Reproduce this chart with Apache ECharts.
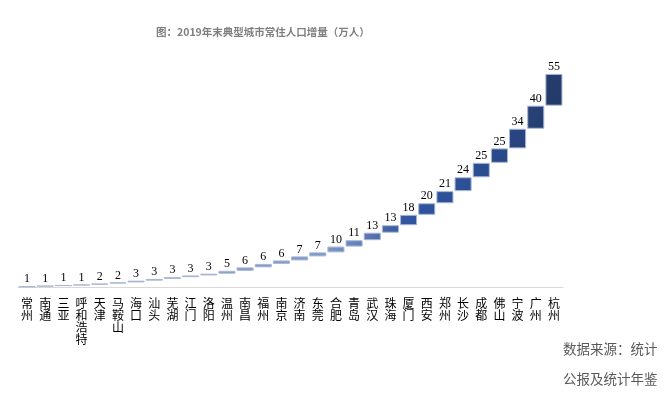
<!DOCTYPE html>
<html>
<head>
<meta charset="utf-8">
<script src="https://cdn.jsdelivr.net/npm/echarts@6/dist/echarts.min.js"></script>
<style>
html,body{margin:0;padding:0;background:#fff;}
#chart{width:669px;height:394px;}
</style>
</head>
<body>
<div id="chart"></div>
<script>
var cities = ['常州','南通','三亚','呼和浩特','天津','马鞍山','海口','汕头','芜湖','江门','洛阳','温州','南昌','福州','南京','济南','东莞','合肥','青岛','武汉','珠海','厦门','西安','郑州','长沙','成都','佛山','宁波','广州','杭州'];
var increments = [1,1,1,1,2,2,3,3,3,3,3,5,6,6,6,7,7,10,11,13,13,18,20,21,24,25,25,34,40,55];
var titleText = '图：2019年末典型城市常住人口增量（万人）';
var sourceLines = ['数据来源：统计', '公报及统计年鉴'];

var bases = [];
var run = 0;
for (var i = 0; i < increments.length; i++) { bases.push(run); run += increments[i]; }

function hex(c) { return [parseInt(c.substr(1,2),16),parseInt(c.substr(3,2),16),parseInt(c.substr(5,2),16)]; }
function mix(a, b, t) {
  var pa = hex(a), pb = hex(b);
  return 'rgb(' + pa.map(function(v,k){return Math.round(v+(pb[k]-v)*t);}).join(',') + ')';
}
var anchors = [[0,'#8ea2c9'],[16,'#7e97c6'],[17,'#6f8cc0'],[18,'#5d7cb8'],[19,'#4a69a8'],[20,'#3659a0'],[21,'#2f53a0'],[25,'#2b4c8e'],[27,'#28427a'],[29,'#213a66']];
function barColor(idx) {
  for (var k = 0; k < anchors.length - 1; k++) {
    if (idx >= anchors[k][0] && idx <= anchors[k+1][0]) {
      return mix(anchors[k][1], anchors[k+1][1], (idx - anchors[k][0]) / (anchors[k+1][0] - anchors[k][0]));
    }
  }
  return anchors[anchors.length-1][1];
}

var chart = echarts.init(document.getElementById('chart'), null, {renderer: 'canvas'});
chart.setOption({
  animation: false,
  title: {
    text: titleText,
    left: 151,
    top: 22,
    textStyle: {fontFamily: 'Noto Sans CJK SC', fontSize: 10.5, fontWeight: 'bold', color: '#7f7f7f'}
  },
  grid: {left: 18, right: 106, top: 56, bottom: 107},
  xAxis: {
    type: 'category',
    data: cities,
    axisLine: {lineStyle: {color: '#d9d9d9', width: 1}},
    axisTick: {show: false},
    axisLabel: {
      interval: 0,
      margin: 10,
      fontFamily: 'Noto Sans CJK SC',
      fontSize: 12,
      lineHeight: 12,
      color: '#000',
      formatter: function (v) { return v.split('').join('\n'); }
    }
  },
  yAxis: {type: 'value', min: 0, max: 400, show: false, splitLine: {show: false}},
  series: [
    {
      type: 'bar', stack: 'w', data: bases, barCategoryGap: '6%',
      itemStyle: {color: 'transparent'}, silent: true
    },
    {
      type: 'bar', stack: 'w', data: increments.map(function (v, i) {
        return {value: v, itemStyle: {color: {type: 'linear', x: 0, y: 0, x2: 1, y2: 1, colorStops: [
          {offset: 0, color: barColor(Math.max(0, i - 1))}, {offset: 1, color: barColor(i)}]}}};
      }),
      itemStyle: {borderColor: '#a8b7d4', borderWidth: 1},
      label: {show: true, position: 'top', distance: 1, fontFamily: 'Liberation Serif', fontSize: 12, color: '#000'}
    }
  ],
  graphic: [
    {type: 'text', left: 563, top: 342, style: {text: sourceLines[0], font: '13.5px "Noto Sans CJK SC"', fill: '#595959'}},
    {type: 'text', left: 563, top: 372, style: {text: sourceLines[1], font: '13.5px "Noto Sans CJK SC"', fill: '#595959'}}
  ]
});
</script>
</body>
</html>
